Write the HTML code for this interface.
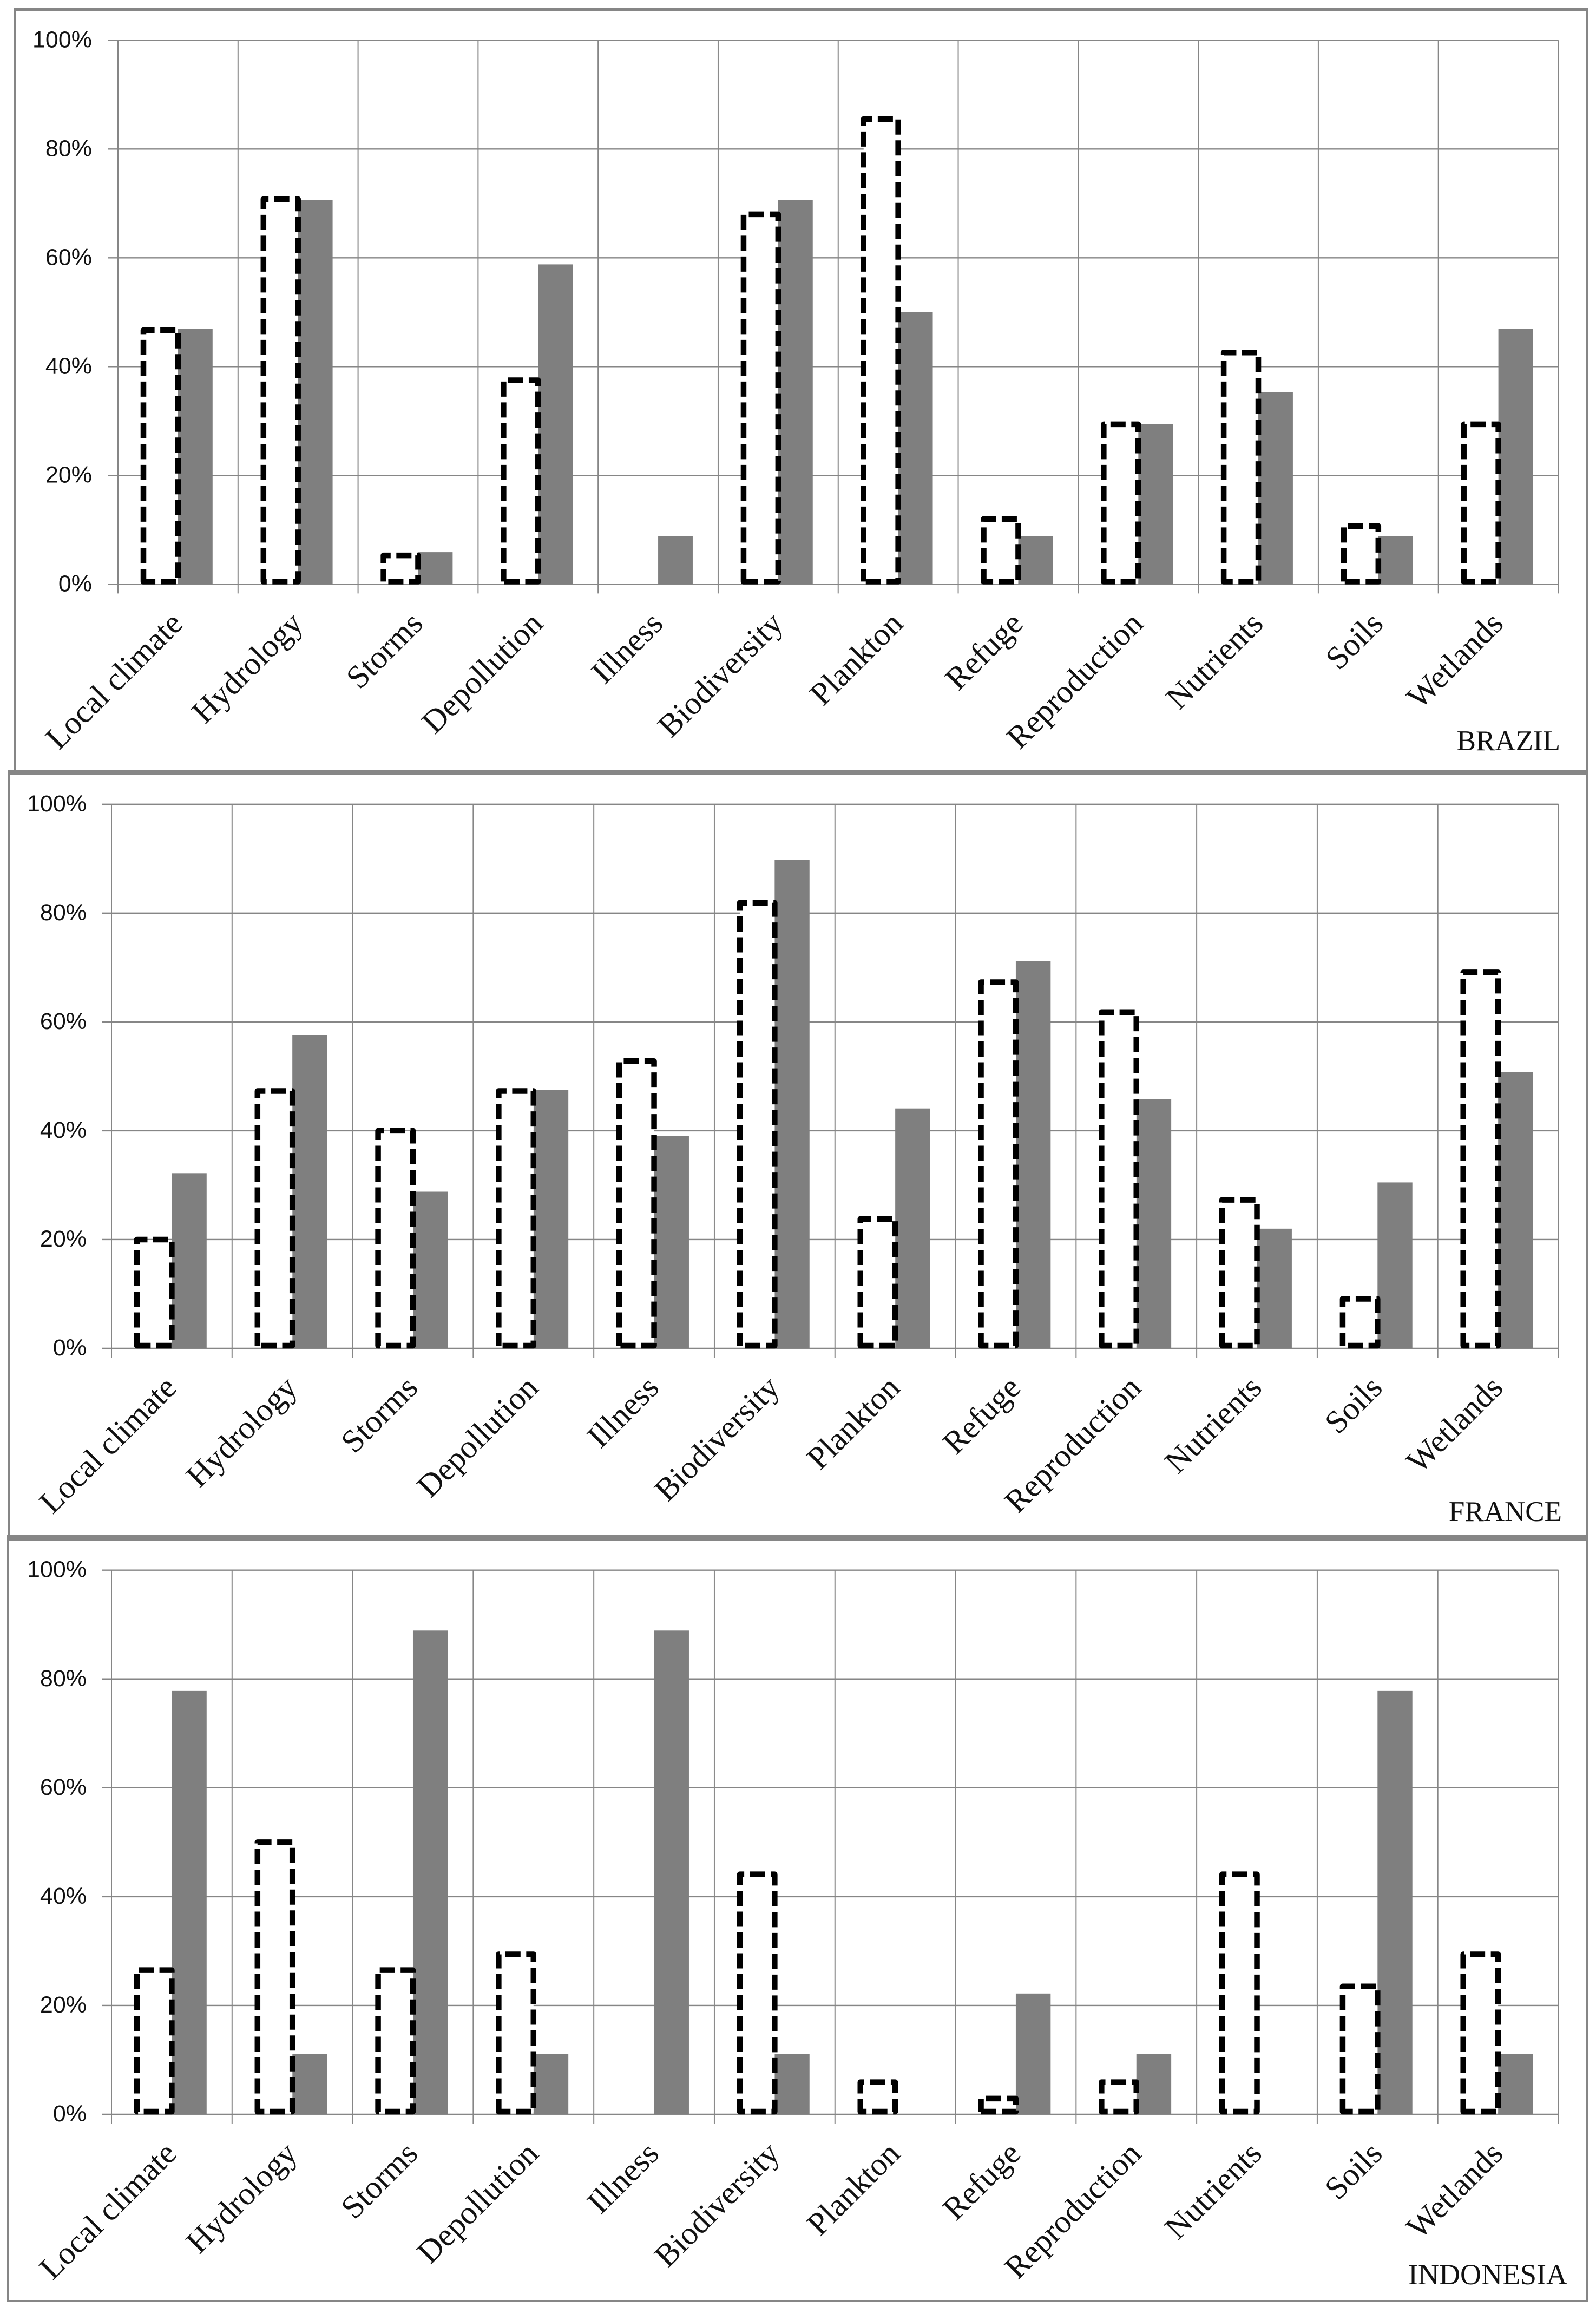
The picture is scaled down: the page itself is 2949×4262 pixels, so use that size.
<!DOCTYPE html>
<html lang="en">
<head>
<meta charset="utf-8">
<title>Ecosystem services by country</title>
<style>
html,body{margin:0;padding:0;background:#fff;}
svg{display:block;}
.tick{font-family:"Liberation Sans",sans-serif;font-size:43px;fill:#111;text-anchor:end;}
.cat{font-family:"Liberation Serif",serif;font-size:60px;fill:#111;text-anchor:end;}
.country{font-family:"Liberation Serif",serif;font-size:53px;fill:#111;text-anchor:end;}
</style>
</head>
<body>
<svg id="figure" xmlns="http://www.w3.org/2000/svg" width="2949" height="4262" viewBox="0 0 2949 4262"></svg>
<script>
const categories = ["Local climate","Hydrology","Storms","Depollution","Illness","Biodiversity","Plankton","Refuge","Reproduction","Nutrients","Soils","Wetlands"];
const tickValues = [0,20,40,60,80,100];
const tickLabels = ["0%","20%","40%","60%","80%","100%"];

const brazilDashed = [46.7,70.8,5.3,37.5,0,68,85.5,12,29.4,42.6,10.7,29.4];
const brazilSolid = [47,70.6,5.9,58.8,8.8,70.6,50,8.8,29.4,35.3,8.8,47];

const franceDashed = [20,47.3,40,47.3,52.8,81.9,23.8,67.3,61.8,27.3,9.1,69.1];
const franceSolid = [32.2,57.6,28.8,47.5,39,89.8,44.1,71.2,45.8,22,30.5,50.8];

const indonesiaDashed = [26.5,50,26.5,29.4,0,44.1,5.9,2.9,5.9,44.1,23.5,29.4];
const indonesiaSolid = [77.8,11.1,88.9,11.1,88.9,11.1,0,22.2,11.1,0,77.8,11.1];

const NS = "http://www.w3.org/2000/svg";
const root = document.getElementById("figure");
const GRID = "#868686";

function make(parent, tag, props, text) {
  const el = document.createElementNS(NS, tag);
  for (const k in props) el.setAttribute(k, props[k]);
  if (text !== undefined) el.textContent = text;
  parent.appendChild(el);
  return el;
}

function drawFrame(slug, o, i) {
  const outer = make(root, "rect", {x:o[0], y:o[1], width:o[2]-o[0], height:o[3]-o[1], fill:GRID});
  
  
  const inner = make(root, "rect", {x:i[0], y:i[1], width:i[2]-i[0], height:i[3]-i[1], fill:"#fff"});
  
  
}

function drawPanel(cfg) {
  const g = make(root, "g", {});
  
  

  const yScale = v => cfg.y0 - (v / 100) * (cfg.y0 - cfg.y100);
  const step = (cfg.x1 - cfg.x0) / categories.length;
  const xBand = i => cfg.x0 + step * i;
  const gap = 47;
  const barW = (step - 2 * gap) / 2;
  const inset = 5;

  tickValues.forEach((v, i) => {
    const y = yScale(v);
    const line = make(g, "line", {x1:cfg.tickLeft, x2:cfg.x1, y1:y, y2:y, stroke:GRID, "stroke-width":2.4});
    
    
    const t = make(g, "text", {class:"tick", x:cfg.labelRight, y:y + 13}, tickLabels[i]);
    
    
  });

  for (let i = 0; i <= categories.length; i++) {
    const x = xBand(i);
    const line = make(g, "line", {x1:x, x2:x, y1:cfg.y100, y2:cfg.y0 + 17, stroke:GRID, "stroke-width":2});
    
    
  }

  categories.forEach((name, i) => {
    const left = xBand(i) + gap;
    const mid = left + barW;
    const solid = cfg.solid[i];
    const dashed = cfg.dashed[i];
    if (solid > 0) {
      const r = make(g, "rect", {x:mid, y:yScale(solid), width:barW, height:cfg.y0 - yScale(solid), fill:"#7f7f7f"});
      
      
    }
    if (dashed > 0) {
      const top = yScale(dashed);
      const base = cfg.y0 - inset;
      const p = make(g, "path", {
        d:"M" + left + " " + base + "V" + top + "H" + mid + "V" + base + "Z",
        fill:"#fff", stroke:"#000", "stroke-width":10.5,
        "stroke-dasharray":"28 10.5", "stroke-dashoffset":inset, "stroke-linejoin":"round"
      });
      
      
    }
    const ax = xBand(i) + step / 2 + 12;
    const ay = cfg.y0 + 76;
    const t = make(g, "text", {class:"cat", x:ax, y:ay, transform:"rotate(-45 " + ax + " " + ay + ")"}, name);
    
    
  });

  const title = make(g, "text", {class:"country", x:cfg.titleRight, y:cfg.titleY, style:"font-size:" + cfg.titleSize + "px"}, cfg.title);
  
  
}

drawFrame("brazil", [25,15,2935,1431], [29,20,2931,1423]);
drawFrame("france", [14,1423,2935,2846], [18,1431,2931,2836]);
drawFrame("indonesia", [13,2836,2935,4253], [17,2846,2931,4249]);

drawPanel({slug:"brazil", title:"BRAZIL", titleSize:53, dashed:brazilDashed, solid:brazilSolid,
  x0:218, x1:2879.5, y0:1079.4, y100:74.3, tickLeft:200, labelRight:170, titleRight:2883, titleY:1386});
drawPanel({slug:"france", title:"FRANCE", titleSize:53, dashed:franceDashed, solid:franceSolid,
  x0:206, x1:2879.5, y0:2491, y100:1485.8, tickLeft:188, labelRight:160, titleRight:2886, titleY:2810});
drawPanel({slug:"indonesia", title:"INDONESIA", titleSize:54, dashed:indonesiaDashed, solid:indonesiaSolid,
  x0:206, x1:2879.5, y0:3906, y100:2900.7, tickLeft:188, labelRight:160, titleRight:2896, titleY:4220});
</script>
</body>
</html>
